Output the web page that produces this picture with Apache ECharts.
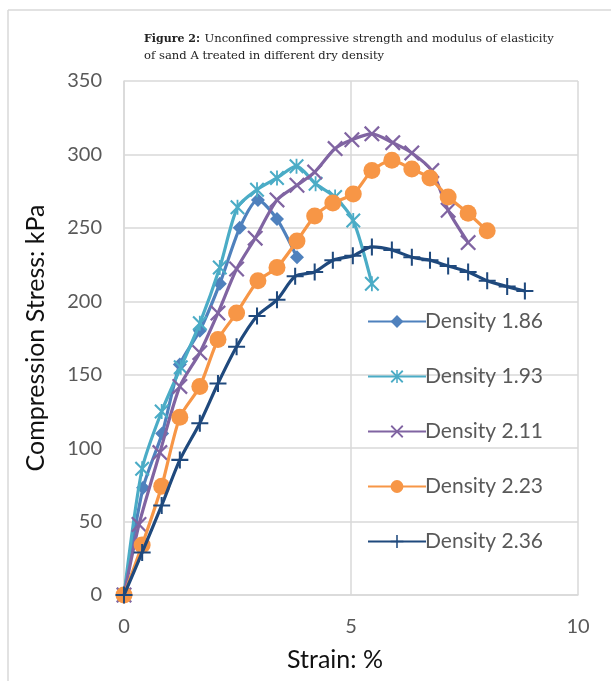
<!DOCTYPE html>
<html>
<head>
<meta charset="utf-8">
<script src="https://cdn.jsdelivr.net/npm/echarts@6/dist/echarts.min.js"></script>
<style>
html, body { margin: 0; padding: 0; background: #fff; }
#chart { width: 611px; height: 681px; }
</style>
</head>
<body>
<div id="chart"></div>
<script>
// strain (%) and compression stress (kPa)
const strain186 = [0, 0.42, 0.84, 1.23, 1.67, 2.11, 2.55, 2.95, 3.37, 3.81];
const stress186 = [0, 73, 110, 157, 180, 212, 250, 269, 256, 230];

const strain193 = [0, 0.4, 0.83, 1.25, 1.67, 2.11, 2.5, 2.93, 3.37, 3.8, 4.22, 4.65, 5.05, 5.46];
const stress193 = [0, 86, 125, 155, 185, 223, 264, 276, 284, 292, 280, 271, 255, 212];

const strain211 = [0, 0.33, 0.79, 1.23, 1.67, 2.07, 2.48, 2.89, 3.37, 3.81, 4.2, 4.65, 5.02, 5.46, 5.92, 6.34, 6.78, 7.14, 7.58];
const stress211 = [0, 48, 97, 142, 165, 192, 222, 243, 269, 279, 288, 304, 310, 314, 308, 301, 289, 262, 240];

const strain223 = [0, 0.4, 0.83, 1.23, 1.67, 2.07, 2.48, 2.95, 3.37, 3.81, 4.2, 4.6, 5.05, 5.46, 5.9, 6.34, 6.74, 7.14, 7.58, 8.0];
const stress223 = [0, 34, 74, 121, 142, 174, 192, 214, 223, 241, 258, 267, 273, 289, 296, 290, 284, 271, 260, 248];

const strain236 = [0, 0.4, 0.83, 1.23, 1.67, 2.07, 2.48, 2.93, 3.37, 3.77, 4.2, 4.6, 5.04, 5.46, 5.9, 6.34, 6.74, 7.14, 7.58, 8.0, 8.44, 8.83];
const stress236 = [0, 29, 61, 92, 117, 144, 169, 190, 201, 217, 220, 228, 231, 237, 235, 230, 228, 224, 220, 214, 210, 207];

const seriesNames = ['Density 1.86', 'Density 1.93', 'Density 2.11', 'Density 2.23', 'Density 2.36'];
const xTicks = [0, 5, 10];

const colors = ['#4F81BD', '#4BACC6', '#8064A2', '#F79646', '#1F497D'];
// marker shapes (excel style)
const xMark = 'path://M0,1L1,0L5,4L9,0L10,1L6,5L10,9L9,10L5,6L1,10L0,9L4,5Z';
const starMark = 'path://M0,1L1,0L5,4L9,0L10,1L6,5L10,9L9,10L5,6L1,10L0,9L4,5Z M4.4,0L5.6,0L5.6,10L4.4,10Z';
const plusMark = 'path://M4.4,0H5.6V4.4H10V5.6H5.6V10H4.4V5.6H0V4.4H4.4Z';

const pairs = (xs, ys) => xs.map((x, i) => [x, ys[i]]);

const chart = echarts.init(document.getElementById('chart'));

function makeSeries(idx, xs, ys, symbol, size) {
    return {
        name: seriesNames[idx],
        type: 'line',
        data: pairs(xs, ys),
        smooth: 0.25,
        symbol: symbol,
        symbolSize: size,
        showAllSymbol: true,
        lineStyle: { color: colors[idx], width: 3.2 },
        itemStyle: { color: colors[idx] },
        z: 2 + idx
    };
}

chart.setOption({
    animation: false,
    textStyle: { fontFamily: 'Lato' },
    title: {
        left: 139,
        top: 25,
        text: '{b|Figure 2:} {n|Unconfined compressive strength and modulus of elasticity}\n{n|of sand A treated in different dry density}',
        textStyle: {
            rich: {
                b: { fontFamily: 'DejaVu Serif', fontWeight: 'bold', fontSize: 11, color: '#222', lineHeight: 15 },
                n: { fontFamily: 'DejaVu Serif', fontWeight: 'normal', fontSize: 11.6, color: '#222', lineHeight: 15 }
            }
        }
    },
    graphic: [
        { type: 'line', shape: { x1: 8, y1: 10, x2: 611, y2: 10 }, style: { stroke: '#D9D9D9', lineWidth: 1.5 } },
        { type: 'line', shape: { x1: 8, y1: 10, x2: 8, y2: 681 }, style: { stroke: '#D9D9D9', lineWidth: 1.5 } }
    ],
    grid: { left: 124, right: 33, top: 81, bottom: 86 },
    legend: {
        orient: 'vertical',
        left: 362,
        top: 306,
        itemGap: 34,
        itemWidth: 58,
        itemHeight: 16,
        textStyle: { fontSize: 21, color: '#595959', fontFamily: 'Lato', padding: [0, 0, 0, -6] },
        data: seriesNames
    },
    xAxis: {
        type: 'value',
        min: 0,
        max: 10,
        interval: 5,
        name: 'Strain: %',
        nameLocation: 'middle',
        nameGap: 52,
        nameTextStyle: { fontSize: 25, color: '#111', padding: [0, 32, 0, 0] },
        axisLine: { show: true, lineStyle: { color: '#D9D9D9', width: 1.5 } },
        axisTick: { show: false },
        axisLabel: { fontSize: 20, color: '#595959', margin: 22, customValues: xTicks },
        splitLine: { show: true, lineStyle: { color: '#D9D9D9', width: 1.5 } }
    },
    yAxis: {
        type: 'value',
        min: 0,
        max: 350,
        interval: 50,
        name: 'Compression Stress: kPa',
        nameLocation: 'middle',
        nameGap: 76,
        nameTextStyle: { fontSize: 25, color: '#111' },
        axisLine: { show: true, lineStyle: { color: '#D9D9D9', width: 1.5 } },
        axisTick: { show: false },
        axisLabel: { fontSize: 20, color: '#595959', margin: 22 },
        splitLine: { show: true, lineStyle: { color: '#D9D9D9', width: 1.5 } }
    },
    series: [
        makeSeries(0, strain186, stress186, 'diamond', 14),
        makeSeries(1, strain193, stress193, starMark, 15),
        makeSeries(2, strain211, stress211, xMark, 16),
        makeSeries(3, strain223, stress223, 'circle', 17),
        makeSeries(4, strain236, stress236, plusMark, 17)
    ]
});
</script>
</body>
</html>
